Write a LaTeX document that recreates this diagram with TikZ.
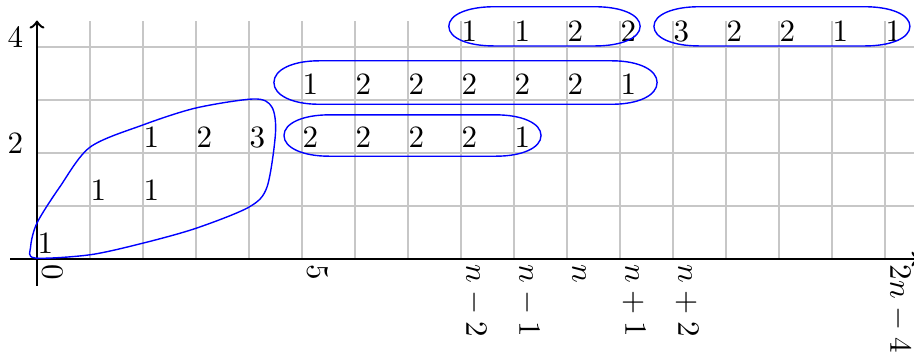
\documentclass[tikz,border=0pt]{standalone}
\newcommand\grpshape[4]{% #1 left x, #2 right x, #3 centre y, #4 half height
  \pgfmathsetmacro\gT{#3+#4}%
  \pgfmathsetmacro\gB{#3-#4}%
  \pgfmathsetmacro\gK{#4*0.6}%
  \draw[blob] (#1,#3) .. controls (#1,#3+\gK) and (#1+0.36,\gT) .. (#1+0.85,\gT)
    -- (#2-0.85,\gT) .. controls (#2-0.36,\gT) and (#2,#3+\gK) .. (#2,#3)
    .. controls (#2,#3-\gK) and (#2-0.36,\gB) .. (#2-0.85,\gB)
    -- (#1+0.85,\gB) .. controls (#1+0.36,\gB) and (#1,#3-\gK) .. cycle;}
\begin{document}
\begin{tikzpicture}[x=0.6cm,y=0.6cm,
  cell/.style={anchor=base west, inner sep=0pt},
  xlab/.style={rotate=-90, anchor=base west, inner sep=0pt},
  ylab/.style={anchor=base east, inner sep=0pt},
  blob/.style={blue, line width=0.45pt},
  axis/.style={thick,->}]
\useasboundingbox (-0.698,-1.755) rectangle (16.547,4.887);
\draw[black!22, line width=0.45pt, step=0.6cm] (0,0) grid (16.6,4.5);
\coordinate (xs) at (-0.5,0);
\coordinate (xe) at (16.65,0);
\coordinate (ys) at (0,-0.5);
\coordinate (ye) at (0,4.5);
\draw[axis] (xs) -- (xe);
\draw[axis] (ys) -- (ye);
% y labels
\node[ylab] (y2) at (-0.25,2) {2};
\node[ylab] (y4) at (-0.25,4) {4};
% x labels
\node[xlab] (x0) at (0.1,-0.1) {$0$};
\node[xlab] (x5) at (5.1,-0.1) {$5$};
\node[xlab] (x8) at (8.1,-0.1) {$n-2$};
\node[xlab] (x9) at (9.1,-0.1) {$n-1$};
\node[xlab] (x10) at (10.1,-0.1) {$n$};
\node[xlab] (x11) at (11.1,-0.1) {$n+1$};
\node[xlab] (x12) at (12.1,-0.1) {$n+2$};
\node[xlab] (x16) at (16.1,-0.1) {$2n-4$};
% cells
\foreach \i/\j/\v in {0/0/1, 1/1/1, 2/1/1, 2/2/1, 3/2/2, 4/2/3,
  5/2/2, 6/2/2, 7/2/2, 8/2/2, 9/2/1,
  5/3/1, 6/3/2, 7/3/2, 8/3/2, 9/3/2, 10/3/2, 11/3/1,
  8/4/1, 9/4/1, 10/4/2, 11/4/2,
  12/4/3, 13/4/2, 14/4/2, 15/4/1, 16/4/1}
  \node[cell] (c-\i-\j) at (\i,\j+0.1) {\v};
% groups
\draw[blob] plot[smooth cycle] coordinates {(-0.04,0.02) (1,0.08) (2,0.3) (3,0.58) (4,0.98) (4.34,1.36) (4.5,2.38) (4.43,2.87) (4.1,3.02) (3,2.85) (2,2.53) (1,2.11) (0.43,1.36) (0,0.68) (-0.12,0.23)};
\grpshape{4.66}{9.51}{2.33}{0.39}
\grpshape{4.47}{11.7}{3.33}{0.41}
\grpshape{7.77}{11.38}{4.39}{0.37}
\grpshape{11.64}{16.47}{4.39}{0.37}
\end{tikzpicture}
\end{document}
